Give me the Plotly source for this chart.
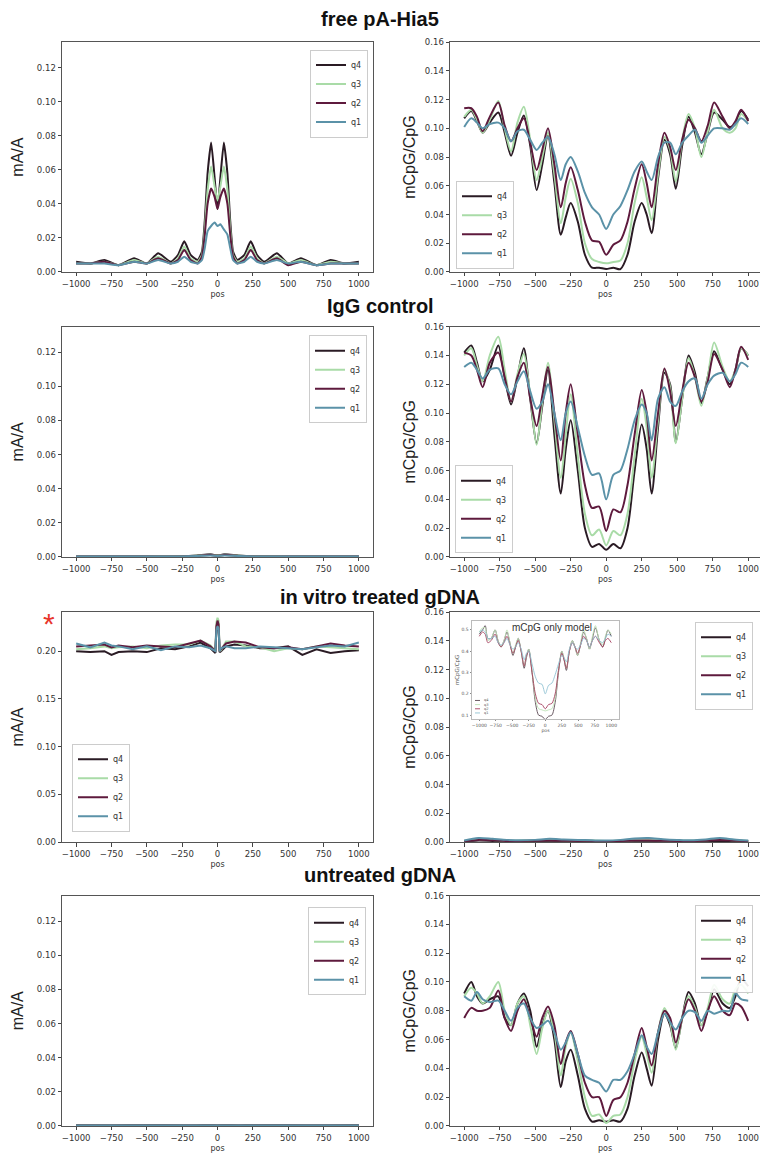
import plotly.graph_objects as go

# ---------------- data ----------------
NAMES = ["q4", "q3", "q2", "q1"]

POS_NUC = [-1000, -950, -910, -870, -820, -760, -715, -670, -625, -580, -535, -490, -450, -410, -365,
           -320, -285, -250, -200, -150, -100, -50, 0, 50, 100, 150, 200, 250, 285, 320, 365, 410,
           450, 490, 535, 580, 625, 670, 715, 760, 820, 870, 910, 950, 1000]

POS_FREE_MA = [-1000, -900, -800, -700, -590, -500, -420, -330, -280, -235, -190, -140, -110, -90, -70,
               -45, -20, 0, 20, 45, 70, 90, 110, 140, 190, 235, 280, 330, 420, 500, 590, 700, 800, 900, 1000]

POS_FLAT = [-1000, -750, -500, -250, -150, -50, 0, 50, 150, 250, 500, 750, 1000]

POS_VITRO_MA = [-1000, -900, -800, -750, -700, -600, -500, -400, -300, -200, -120, -50, -15, -8, 0, 8,
                15, 25, 60, 120, 200, 300, 400, 500, 600, 700, 800, 900, 1000]

POS_VITRO_CPG = [-1000, -900, -800, -700, -600, -500, -400, -300, -200, -100, 0, 100, 200, 300, 400,
                 500, 600, 700, 800, 900, 1000]

# free pA-Hia5, mA/A
FREE_MA_Q4 = [.006, .005, .007, .004, .008, .005, .011, .006, .010, .018, .010, .007, .012, .030, .058,
              .076, .055, .037, .055, .076, .058, .030, .012, .007, .010, .018, .010, .006, .011, .005,
              .008, .004, .007, .005, .006]
FREE_MA_Q3 = [.005, .005, .006, .004, .007, .005, .009, .005, .008, .015, .008, .006, .010, .025, .048,
              .062, .050, .042, .050, .062, .048, .025, .010, .006, .008, .015, .008, .005, .009, .005,
              .007, .004, .006, .005, .005]
FREE_MA_Q2 = [.005, .005, .006, .004, .006, .005, .008, .005, .007, .013, .007, .005, .009, .022, .040,
              .049, .044, .037, .044, .049, .040, .022, .009, .005, .007, .013, .007, .005, .008, .004,
              .006, .004, .005, .005, .005]
FREE_MA_Q1 = [.005, .005, .005, .004, .006, .005, .007, .005, .006, .009, .006, .005, .007, .014, .024,
              .027, .029, .027, .028, .025, .022, .014, .007, .005, .006, .009, .006, .005, .007, .005,
              .006, .004, .005, .005, .005]

# free pA-Hia5, mCpG/CpG
FREE_CPG_Q4 = [.107, .112, .105, .097, .104, .111, .097, .081, .097, .109, .088, .057, .075, .095, .062,
               .026, .038, .048, .035, .012, .003, .003, .002, .003, .002, .012, .035, .048, .040, .027,
               .065, .092, .082, .058, .088, .108, .097, .082, .097, .111, .106, .101, .103, .112, .106]
FREE_CPG_Q3 = [.108, .113, .106, .097, .106, .119, .100, .084, .104, .115, .092, .064, .080, .097, .068,
               .034, .052, .065, .048, .020, .009, .007, .006, .007, .008, .020, .048, .066, .052, .036,
               .068, .094, .085, .063, .092, .110, .100, .080, .098, .113, .100, .097, .100, .110, .105]
FREE_CPG_Q2 = [.114, .114, .108, .098, .108, .118, .102, .091, .100, .107, .090, .071, .085, .100, .075,
               .045, .062, .073, .057, .035, .022, .021, .012, .019, .022, .035, .058, .075, .062, .045,
               .075, .097, .087, .071, .092, .106, .100, .091, .102, .118, .108, .100, .105, .113, .105]
FREE_CPG_Q1 = [.101, .107, .104, .100, .103, .104, .100, .091, .098, .099, .092, .085, .090, .094, .082,
               .064, .075, .080, .070, .055, .045, .040, .030, .040, .046, .057, .070, .077, .070, .064,
               .080, .090, .090, .082, .090, .095, .099, .090, .095, .100, .100, .099, .103, .107, .103]

# IgG control, mA/A
IGG_MA_Q4 = [.0003, .0003, .0003, .0004, .0008, .0015, .0009, .0015, .0008, .0004, .0003, .0003, .0003]
IGG_MA_Q3 = [.0002, .0002, .0003, .0004, .0007, .0013, .0008, .0013, .0007, .0004, .0003, .0002, .0002]
IGG_MA_Q2 = [.0002, .0002, .0003, .0003, .0006, .0011, .0007, .0011, .0006, .0003, .0002, .0002, .0002]
IGG_MA_Q1 = [.0002, .0002, .0002, .0003, .0005, .0008, .0006, .0008, .0005, .0003, .0002, .0002, .0002]

# IgG control, mCpG/CpG
IGG_CPG_Q4 = [.142, .147, .135, .122, .130, .147, .125, .106, .125, .145, .110, .079, .105, .130, .085,
              .044, .075, .095, .060, .020, .007, .009, .005, .009, .006, .020, .060, .092, .075, .044,
              .090, .128, .120, .080, .110, .140, .128, .107, .125, .143, .130, .120, .130, .145, .140]
IGG_CPG_Q3 = [.140, .145, .133, .122, .140, .153, .130, .108, .127, .141, .112, .078, .108, .135, .095,
              .055, .085, .113, .070, .030, .015, .019, .008, .018, .015, .030, .070, .110, .090, .055,
              .095, .130, .118, .079, .110, .138, .125, .105, .125, .149, .132, .122, .130, .145, .140]
IGG_CPG_Q2 = [.142, .140, .130, .118, .135, .142, .125, .108, .125, .135, .110, .091, .112, .132, .100,
              .067, .100, .120, .085, .050, .034, .035, .018, .033, .031, .050, .085, .116, .100, .067,
              .100, .131, .115, .091, .115, .135, .125, .108, .122, .141, .130, .118, .130, .146, .137]
IGG_CPG_Q1 = [.132, .135, .130, .124, .130, .131, .120, .113, .122, .129, .115, .103, .108, .120, .100,
              .081, .100, .108, .090, .070, .057, .058, .040, .057, .060, .075, .095, .106, .100, .081,
              .110, .118, .108, .105, .115, .122, .124, .110, .120, .126, .128, .122, .127, .135, .132]

# in vitro treated gDNA, mA/A
VITRO_MA_Q4 = [.200, .199, .200, .196, .199, .200, .199, .203, .202, .205, .209, .203, .198, .222, .224,
               .222, .199, .200, .205, .207, .206, .203, .203, .205, .196, .202, .198, .200, .201]
VITRO_MA_Q3 = [.202, .203, .205, .203, .204, .205, .203, .206, .207, .207, .211, .206, .200, .230, .235,
               .232, .200, .201, .210, .210, .205, .204, .200, .203, .202, .205, .204, .203, .202]
VITRO_MA_Q2 = [.205, .206, .207, .204, .206, .204, .206, .205, .204, .208, .211, .205, .200, .226, .232,
               .228, .200, .202, .208, .210, .209, .204, .203, .204, .202, .205, .208, .206, .205]
VITRO_MA_Q1 = [.208, .204, .209, .206, .205, .202, .205, .201, .205, .204, .206, .203, .200, .222, .226,
               .224, .200, .203, .205, .203, .203, .205, .204, .203, .202, .204, .206, .205, .209]

# in vitro treated gDNA, mCpG/CpG
VITRO_CPG_Q4 = [.0005, .0010, .0008, .0005, .0006, .0005, .0007, .0006, .0005, .0006, .0004, .0005, .0006,
                .0005, .0006, .0007, .0005, .0006, .0008, .0006, .0005]
VITRO_CPG_Q3 = [.0008, .0018, .0015, .0009, .0010, .0012, .0013, .0011, .0010, .0010, .0008, .0010, .0012,
                .0012, .0011, .0010, .0009, .0012, .0018, .0012, .0008]
VITRO_CPG_Q2 = [.0006, .0015, .0012, .0007, .0008, .0009, .0010, .0009, .0008, .0008, .0006, .0008, .0010,
                .0010, .0009, .0008, .0007, .0010, .0015, .0010, .0006]
VITRO_CPG_Q1 = [.0010, .0028, .0022, .0015, .0012, .0015, .0022, .0018, .0015, .0012, .0010, .0015, .0025,
                .0028, .0020, .0015, .0012, .0018, .0028, .0018, .0010]

# mCpG only model (inset)
MODEL_Q4 = [.48, .50, .52, .46, .46, .50, .45, .42, .45, .49, .44, .38, .42, .46, .40, .32, .37, .41, .30,
            .16, .10, .095, .08, .095, .10, .16, .30, .40, .36, .31, .40, .45, .42, .38, .43, .49, .46,
            .41, .46, .51, .45, .42, .46, .50, .47]
MODEL_Q3 = [.49, .51, .51, .45, .46, .50, .45, .42, .45, .50, .44, .39, .43, .46, .40, .33, .38, .41, .31,
            .18, .13, .125, .12, .125, .13, .18, .31, .40, .37, .32, .40, .45, .42, .38, .44, .50, .46,
            .41, .47, .52, .45, .43, .47, .50, .48]
MODEL_Q2 = [.47, .49, .48, .44, .45, .48, .44, .42, .44, .47, .43, .39, .42, .45, .40, .33, .38, .40, .30,
            .20, .155, .15, .13, .15, .155, .20, .31, .39, .36, .32, .40, .44, .42, .39, .43, .47, .45,
            .42, .45, .47, .44, .42, .45, .46, .44]
MODEL_Q1 = [.49, .50, .49, .46, .46, .47, .44, .43, .44, .46, .43, .41, .42, .44, .41, .36, .39, .40, .34,
            .28, .25, .245, .20, .24, .25, .29, .34, .38, .37, .35, .41, .44, .42, .41, .43, .46, .45,
            .42, .45, .47, .45, .44, .46, .48, .47]

# untreated gDNA, mA/A
UNTR_MA_Q4 = [.0004, .0003, .0004, .0003, .0003, .0004, .0003, .0004, .0003, .0004, .0004, .0003, .0004]
UNTR_MA_Q3 = [.0003, .0003, .0003, .0003, .0003, .0003, .0003, .0003, .0003, .0003, .0003, .0003, .0003]
UNTR_MA_Q2 = [.0003, .0003, .0003, .0002, .0003, .0003, .0003, .0003, .0003, .0003, .0003, .0003, .0003]
UNTR_MA_Q1 = [.0003, .0002, .0003, .0003, .0002, .0003, .0003, .0003, .0002, .0003, .0003, .0002, .0003]

# untreated gDNA, mCpG/CpG
UNTR_CPG_Q4 = [.092, .100, .090, .085, .088, .090, .075, .070, .085, .092, .080, .055, .070, .080, .060,
               .027, .045, .053, .035, .012, .003, .004, .003, .004, .003, .012, .035, .051, .040, .028,
               .060, .078, .070, .054, .075, .093, .085, .070, .080, .095, .085, .082, .090, .102, .097]
UNTR_CPG_Q3 = [.090, .096, .092, .085, .090, .100, .080, .070, .085, .090, .070, .050, .068, .080, .065,
               .035, .055, .065, .045, .020, .007, .008, .002, .007, .008, .020, .045, .062, .050, .037,
               .065, .082, .072, .053, .075, .090, .082, .070, .082, .098, .088, .085, .095, .098, .092]
UNTR_CPG_Q2 = [.075, .082, .080, .080, .082, .094, .075, .066, .080, .088, .075, .062, .075, .083, .070,
               .043, .058, .066, .050, .030, .020, .020, .007, .018, .020, .030, .050, .068, .055, .042,
               .065, .080, .075, .058, .075, .088, .080, .066, .080, .090, .080, .077, .085, .083, .073]
UNTR_CPG_Q1 = [.090, .087, .093, .088, .086, .087, .080, .073, .082, .085, .075, .068, .070, .073, .065,
               .053, .058, .065, .050, .035, .032, .030, .024, .032, .032, .038, .050, .063, .055, .050,
               .065, .078, .072, .067, .075, .080, .079, .073, .080, .078, .080, .080, .092, .088, .087]

X_TICKS = [-1000, -750, -500, -250, 0, 250, 500, 750, 1000]
ROW_TITLES = ["free pA-Hia5", "IgG control", "in vitro treated gDNA", "untreated gDNA"]

# ---------------- style ----------------
COLORS = ["#2a1b24", "#a9dba7", "#5e1a3d", "#5b92a8"]
MODEL_COLORS = ["#5a4852", "#bfe3b8", "#a5405f", "#92c3d4"]
W, H = 760, 1161
TICK_FONT = dict(family="DejaVu Sans", size=8.5, color="#333333")
TITLE_FONT = dict(family="Liberation Sans, Arial", size=16, color="#222222")


def px_x(p):
    return p / W


def px_y(p):
    return 1 - p / H


ROWS_PX = [(37.5, 269.3), (324.5, 556.7), (612.3, 844.3), (898.3, 1130.7)]
LEFT_DOM = [px_x(62), px_x(373)]
RIGHT_DOM = [px_x(450), 1.0]

fig = go.Figure()

panels = [
    # (row, col, pos, series, spline smoothing)
    (0, 0, POS_FREE_MA, [FREE_MA_Q4, FREE_MA_Q3, FREE_MA_Q2, FREE_MA_Q1], 0.5),
    (0, 1, POS_NUC, [FREE_CPG_Q4, FREE_CPG_Q3, FREE_CPG_Q2, FREE_CPG_Q1], 0.8),
    (1, 0, POS_FLAT, [IGG_MA_Q4, IGG_MA_Q3, IGG_MA_Q2, IGG_MA_Q1], 0.8),
    (1, 1, POS_NUC, [IGG_CPG_Q4, IGG_CPG_Q3, IGG_CPG_Q2, IGG_CPG_Q1], 0.8),
    (2, 0, POS_VITRO_MA, [VITRO_MA_Q4, VITRO_MA_Q3, VITRO_MA_Q2, VITRO_MA_Q1], None),
    (2, 1, POS_VITRO_CPG, [VITRO_CPG_Q4, VITRO_CPG_Q3, VITRO_CPG_Q2, VITRO_CPG_Q1], 0.8),
    (3, 0, POS_FLAT, [UNTR_MA_Q4, UNTR_MA_Q3, UNTR_MA_Q2, UNTR_MA_Q1], 0.8),
    (3, 1, POS_NUC, [UNTR_CPG_Q4, UNTR_CPG_Q3, UNTR_CPG_Q2, UNTR_CPG_Q1], 0.8),
]

legend_pos = [
    dict(x=px_x(368), y=px_y(45), xanchor="right", yanchor="top"),
    dict(x=px_x(456), y=px_y(266), xanchor="left", yanchor="bottom"),
    dict(x=px_x(367), y=px_y(333), xanchor="right", yanchor="top"),
    dict(x=px_x(455), y=px_y(553), xanchor="left", yanchor="bottom"),
    dict(x=px_x(72), y=px_y(834), xanchor="left", yanchor="bottom"),
    dict(x=px_x(753), y=px_y(622), xanchor="right", yanchor="top"),
    dict(x=px_x(366), y=px_y(910), xanchor="right", yanchor="top"),
    dict(x=px_x(753), y=px_y(908), xanchor="right", yanchor="top"),
]

layout = dict(
    width=W, height=H, margin=dict(l=0, r=0, t=0, b=0),
    paper_bgcolor="white", plot_bgcolor="white", showlegend=True,
)

for i, (row, col, pos, series, smooth) in enumerate(panels):
    n = i + 1
    xa = "x" if n == 1 else f"x{n}"
    ya = "y" if n == 1 else f"y{n}"
    lg = "legend" if n == 1 else f"legend{n}"
    for name, vals, color in zip(NAMES, series, COLORS):
        line = dict(color=color, width=2)
        if smooth is not None:
            line.update(shape="spline", smoothing=smooth)
        fig.add_trace(go.Scatter(x=pos, y=vals, mode="lines", name=name, line=line,
                                 xaxis=xa, yaxis=ya, legend=lg))
    top, bot = ROWS_PX[row]
    ydom = [px_y(bot), px_y(top)]
    if col == 0:
        xdom, xrange_ = LEFT_DOM, [-1100, 1100]
        ytitle, standoff = "mA/A", 9
        if row == 2:
            yrange, ytick = [0, 0.241], [0, 0.05, 0.10, 0.15, 0.20]
        else:
            yrange, ytick = [0, 0.135], [0, 0.02, 0.04, 0.06, 0.08, 0.10, 0.12]
    else:
        xdom, xrange_ = RIGHT_DOM, [-1100, 1083]
        ytitle, standoff = "mCpG/CpG", 5
        yrange, ytick = [0, 0.16], [0, 0.02, 0.04, 0.06, 0.08, 0.10, 0.12, 0.14, 0.16]
    common = dict(showgrid=False, zeroline=False, showline=True, linecolor="#555555", linewidth=1,
                  ticks="outside", ticklen=3.5, tickwidth=0.8, tickcolor="#444444", tickfont=TICK_FONT)
    layout["xaxis" if n == 1 else f"xaxis{n}"] = dict(
        domain=xdom, range=xrange_, anchor=ya, tickmode="array", tickvals=X_TICKS,
        title=dict(text="pos", font=dict(family="DejaVu Sans", size=8, color="#333333"), standoff=3),
        mirror=True, **common)
    layout["yaxis" if n == 1 else f"yaxis{n}"] = dict(
        domain=ydom, range=yrange, anchor=xa, tickmode="array", tickvals=ytick, tickformat=".2f",
        title=dict(text=ytitle, font=TITLE_FONT, standoff=standoff),
        mirror=(col == 0), **common)
    layout[lg] = dict(**legend_pos[i], bgcolor="rgba(255,255,255,0.9)", bordercolor="#cccccc",
                      borderwidth=1, font=dict(family="DejaVu Sans", size=8, color="#333333"),
                      itemwidth=30, tracegroupgap=0)

# inset (mCpG only model) inside the "in vitro treated gDNA" mCpG/CpG panel
for name, vals, color in zip(NAMES, [MODEL_Q4, MODEL_Q3, MODEL_Q2, MODEL_Q1], MODEL_COLORS):
    fig.add_trace(go.Scatter(x=POS_NUC, y=vals, mode="lines", name=name, showlegend=False,
                             line=dict(color=color, width=0.9, shape="spline", smoothing=0.8),
                             xaxis="x9", yaxis="y9"))
small = dict(family="DejaVu Sans", size=4.5, color="#555555")
inset_common = dict(showgrid=False, zeroline=False, showline=True, linecolor="#bbbbbb", linewidth=1,
                    mirror=True, ticks="outside", ticklen=1.5, tickwidth=0.5, tickcolor="#888888",
                    tickfont=small)
layout["xaxis9"] = dict(domain=[px_x(472), px_x(619)], range=[-1110, 1117], anchor="y9",
                        tickmode="array", tickvals=X_TICKS,
                        title=dict(text="pos", font=small, standoff=1), **inset_common)
layout["yaxis9"] = dict(domain=[px_y(720), px_y(621.3)], range=[0.083, 0.542], anchor="x9",
                        tickmode="array", tickvals=[0.1, 0.2, 0.3, 0.4, 0.5], tickformat=".1f",
                        title=dict(text="mCpG/CpG", font=dict(family="DejaVu Sans", size=5.5,
                                                              color="#555555"), standoff=1),
                        **inset_common)

annotations = []
shapes = []
row_title_y = [14, 304, 597, 878]
for t, yy in zip(ROW_TITLES, row_title_y):
    annotations.append(dict(text=f"<b>{t}</b>", x=0.5, y=px_y(yy), xref="paper", yref="paper",
                            showarrow=False, xanchor="center", yanchor="middle",
                            font=dict(family="Liberation Sans, Arial", size=20, color="#111111")))
annotations.append(dict(text="*", x=px_x(49), y=px_y(624), xref="paper", yref="paper", showarrow=False,
                        xanchor="center", yanchor="middle",
                        font=dict(family="Liberation Sans, Arial", size=30, color="#e8352b")))
annotations.append(dict(text="mCpG only model", x=px_x(552), y=px_y(628), xref="paper", yref="paper",
                        showarrow=False, xanchor="center", yanchor="middle",
                        font=dict(family="Liberation Sans, Arial", size=10, color="#333333")))
# tiny inset legend
for k, (name, color) in enumerate(zip(NAMES, MODEL_COLORS)):
    yy = 701.5 + k * 4.2
    shapes.append(dict(type="line", xref="paper", yref="paper", x0=px_x(475), x1=px_x(480),
                       y0=px_y(yy), y1=px_y(yy), line=dict(color=color, width=0.9)))
    annotations.append(dict(text=name, x=px_x(482), y=px_y(yy), xref="paper", yref="paper",
                            showarrow=False, xanchor="left", yanchor="middle",
                            font=dict(family="DejaVu Sans", size=3.5, color="#555555")))

layout["annotations"] = annotations
layout["shapes"] = shapes
fig.update_layout(**layout)
fig.write_html("out.html")
